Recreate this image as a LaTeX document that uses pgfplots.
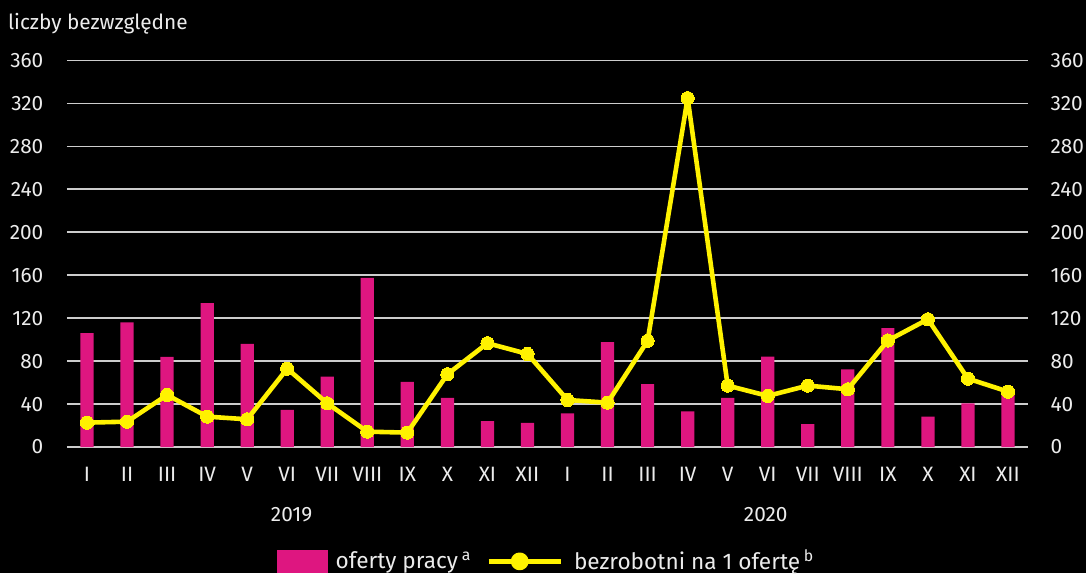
\documentclass[border=0pt]{standalone}
\usepackage{fontspec}
\setmainfont{Fira Sans}
\usepackage{pgfplots}
\pgfplotsset{compat=1.18}
\usepackage{pgfplotstable}
\definecolor{oferty}{RGB}{222,22,128}
\definecolor{bezrob}{RGB}{255,242,0}
\definecolor{txt}{RGB}{236,236,236}
\definecolor{grd}{RGB}{205,205,205}

% x: 0-11 = 2019 I-XII, 12-23 = 2020 I-XII
\pgfplotstableread{
x oferty bezrob
0 106 22.7
1 116 23.6
2 84 48.5
3 134 28.3
4 96 25.8
5 34.5 73
6 65.6 40.7
7 157.6 14.3
8 60.6 13.4
9 45.7 67.8
10 24.2 96.7
11 22.4 86.7
12 31.4 43.8
13 97.6 41.3
14 58.5 98.9
15 33.3 325
16 45.7 57.2
17 84.2 47.6
18 21.4 57.2
19 72.4 53.8
20 110.7 99.2
21 28.3 119
22 40.7 63.7
23 49 51.6
}\dane

\begin{document}
\begin{tikzpicture}[font=\fontsize{10.4}{12.5}\selectfont]
\fill[black] (-33.5pt,-63pt) rectangle (509.5pt,223.5pt);
\pgfplotsset{wspolne/.style={width=480.5pt,height=193.2pt,scale only axis,
  xmin=-0.5,xmax=23.5,ymin=0,ymax=360,ytick={0,40,...,360},
  axis line style={draw=none},major tick length=0pt,
  /pgf/number format/assume math mode=true,tick label style={text=txt}}}
\begin{axis}[wspolne,clip=false,ymajorgrids,grid style={grd,line width=0.9pt},
  xtick={0,...,23},
  xticklabels={I,II,III,IV,V,VI,VII,VIII,IX,X,XI,XII,I,II,III,IV,V,VI,VII,VIII,IX,X,XI,XII},
  xticklabel style={yshift=-6.8pt},
  yticklabel style={xshift=-8.3pt},
  legend style={at={(0.50,-0.296)},anchor=center,draw=none,fill=none,text=txt,
    font=\fontsize{11.3}{13.5}\selectfont,
    legend columns=2,/tikz/every even column/.append style={column sep=5.5pt}},
  legend cell align=left]
\addplot[ybar,bar width=0.33,fill=oferty,draw=none,
  legend image code/.code={\fill[oferty] (0pt,-5.75pt) rectangle (25.5pt,5.75pt);
    \path (27.5pt,0pt);}]
  table[x=x,y=oferty]{\dane};
\addplot[bezrob,line width=2.3pt,line join=round,mark=*,mark size=3.3pt,
  mark options={fill=bezrob,draw=bezrob,line width=0pt},
  legend image code/.code={\draw[bezrob,line width=2.3pt] (0pt,0pt) -- (36pt,0pt);
    \fill[bezrob] (15.5pt,0pt) circle (3.3pt); \path (39.5pt,0pt);}]
  table[x=x,y=bezrob]{\dane};
\legend{oferty pracy\,\textsuperscript{a},bezrobotni na 1 ofertę\,\textsuperscript{b}}
\node[text=txt,yshift=-34pt] at (axis cs:5.11,0) {2019};
\node[text=txt,yshift=-34pt] at (axis cs:16.95,0) {2020};
\node[anchor=base west,text=txt] at ([xshift=-33pt,yshift=15.5pt]rel axis cs:0,1) {liczby bezwzględne};
\end{axis}
\begin{axis}[wspolne,axis y line*=right,hide x axis,yticklabel style={xshift=7.8pt}]
\addplot[draw=none] coordinates {(0,0)};
\end{axis}
\pgfresetboundingbox
\path (-33.5pt,-63pt) rectangle (509.5pt,223.5pt);
\end{tikzpicture}
\end{document}
